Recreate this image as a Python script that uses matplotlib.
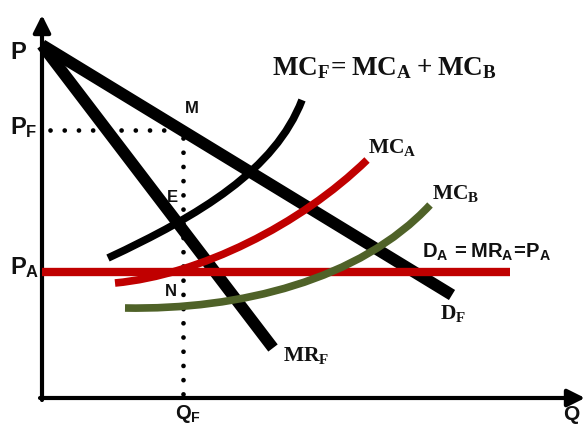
import matplotlib
matplotlib.use("Agg")
import matplotlib.pyplot as plt
from matplotlib.path import Path
from matplotlib.patches import PathPatch

plt.rcParams['mathtext.fontset'] = 'custom'
plt.rcParams['mathtext.bf'] = 'Liberation Serif:bold'
plt.rcParams['mathtext.sf'] = 'Liberation Sans:bold'
plt.rcParams['mathtext.rm'] = 'Liberation Serif:bold'

# ---- data (Q, P in diagram units; origin at axes corner) ----
p_max = 353                 # common intercept of D_F and MR_F
df_end = (410, 103)         # demand of the firm, end point
mrf_end = (231, 50)         # marginal revenue of the firm, end point
p_a = 126                   # world price P_A
p_a_q_end = 468
p_f = 268                   # price P_F
q_f = 141                   # quantity Q_F

# marginal cost curves: cubic Bezier control points (Q, P)
mc_f = [(66, 140), (158, 183), (233, 228), (260, 298)]
mc_a = [(73, 115), (158, 123), (258, 173), (325, 238)]
mc_b = [(83, 90), (198, 88), (318, 118), (388, 193)]

q_axis_end = 543
p_axis_end = 383

RED = '#c00000'
GREEN = '#4f6228'
TXT = '#111111'

fig = plt.figure(figsize=(5.87, 4.26), dpi=100)
ax = fig.add_axes([0, 0, 1, 1])
ax.set_xlim(-42, 545)
ax.set_ylim(-28, 398)
ax.axis('off')

# axes with arrows
ax.annotate('', xy=(0, p_axis_end), xytext=(0, -2),
            arrowprops=dict(arrowstyle='-|>', lw=3, color='k', mutation_scale=26,
                            shrinkA=0, shrinkB=0))
ax.annotate('', xy=(q_axis_end, 0), xytext=(-2, 0),
            arrowprops=dict(arrowstyle='-|>', lw=3, color='k', mutation_scale=26,
                            shrinkA=0, shrinkB=0))

# dotted guides
dot = (0, (0.01, 3.0))
ax.plot([8, q_f], [p_f, p_f], color='k', lw=3.4, ls=dot, dash_capstyle='round')
ax.plot([q_f, q_f], [p_f - 8, 0], color='k', lw=3.4, ls=dot, dash_capstyle='round')

# demand and marginal revenue of the firm
ax.plot([0, df_end[0]], [p_max, df_end[1]], color='k', lw=8.5, solid_capstyle='butt', zorder=2)
ax.plot([0, mrf_end[0]], [p_max, mrf_end[1]], color='k', lw=8.5, solid_capstyle='butt', zorder=2)

# world price line
ax.plot([0, p_a_q_end], [p_a, p_a], color=RED, lw=6, solid_capstyle='butt', zorder=3)


def bez(pts, color, lw, z):
    path = Path(pts, [Path.MOVETO, Path.CURVE4, Path.CURVE4, Path.CURVE4])
    ax.add_patch(PathPatch(path, facecolor='none', edgecolor=color, lw=lw,
                           capstyle='butt', zorder=z))


bez(mc_f, 'k', 5.5, 4)
bez(mc_a, RED, 5.5, 4)
bez(mc_b, GREEN, 5.5, 4)

# labels
sans = dict(color=TXT, fontsize=17, va='center')
ax.text(-32, 346, r'$\mathsf{P}$', ha='left', **sans)
ax.text(-32, 270, r'$\mathsf{P_F}$', ha='left', **sans)
ax.text(-32, 130, r'$\mathsf{P_A}$', ha='left', **sans)
ax.text(149, 290, r'$\mathsf{M}$', ha='center', color=TXT, fontsize=12, va='center')
ax.text(130, 201, r'$\mathsf{E}$', ha='center', color=TXT, fontsize=12, va='center')
ax.text(128, 107, r'$\mathsf{N}$', ha='center', color=TXT, fontsize=12, va='center')
ax.text(146, -16, r'$\mathsf{Q_F}$', ha='center', color=TXT, fontsize=14.5, va='center')
ax.text(530, -17, r'$\mathsf{Q}$', ha='center', color=TXT, fontsize=15, va='center')
ax.text(380, 146, r'$\mathsf{D_A\,=MR_A\!=\!P_A}$', ha='left', color=TXT, fontsize=14.5,
        va='center')

ax.text(230, 330, r'$\mathbf{MC_F\!= MC_A + MC_B}$', ha='left', color=TXT, fontsize=19.5,
        va='center')
ax.text(326, 250, r'$\mathbf{MC_A}$', ha='left', color=TXT, fontsize=15.5, va='center')
ax.text(390, 205, r'$\mathbf{MC_B}$', ha='left', color=TXT, fontsize=15.5, va='center')
ax.text(398, 85, r'$\mathbf{D_F}$', ha='left', color=TXT, fontsize=15.5, va='center')
ax.text(241, 43, r'$\mathbf{MR_F}$', ha='left', color=TXT, fontsize=15.5, va='center')

fig.savefig('out.png', dpi=100)
